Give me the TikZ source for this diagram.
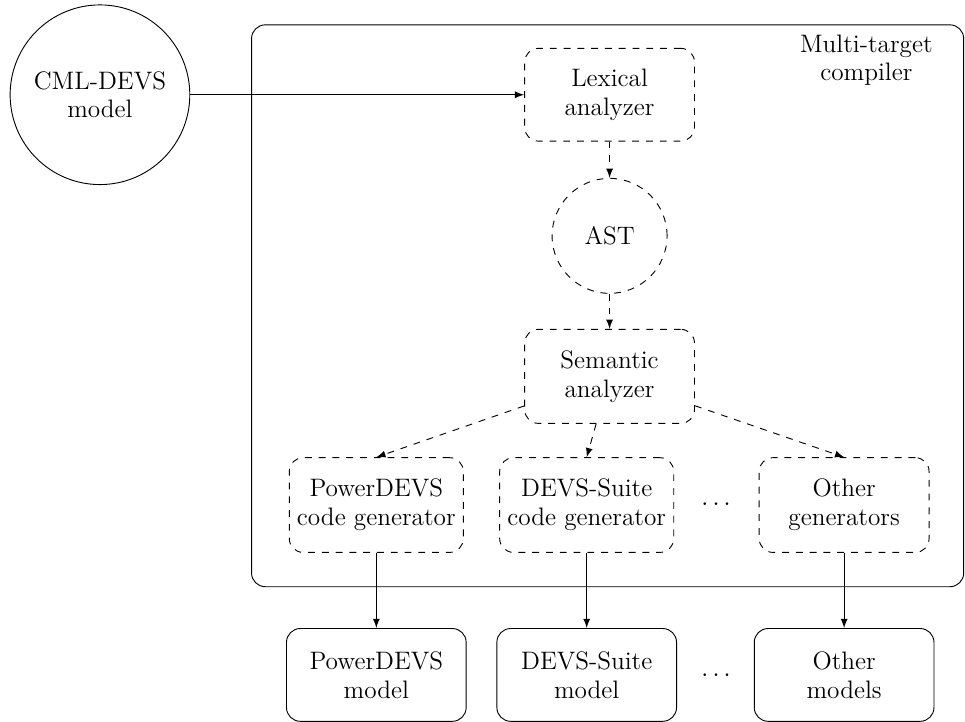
\documentclass[tikz,border=0pt]{standalone}
\usetikzlibrary{arrows}
\usetikzlibrary{positioning}

\begin{document}
\begin{tikzpicture}[font=\fontsize{11}{12.5}\selectfont,
    stage/.style={draw, dashed, rounded corners=6pt, align=center, minimum width=2.6cm, minimum height=1.42cm},
    result/.style={draw, rounded corners=6pt, align=center, minimum width=2.75cm, minimum height=1.42cm},
    flow/.style={-latex, dashed},
    emit/.style={-latex}]
  \useasboundingbox (0, 0) rectangle (14.77, -11.05);

  % compiler frame
  \draw[rounded corners=6pt] (3.85, -0.38) rectangle (14.75, -8.98);
  \node[align=center] (compiler) at (13.26, -0.92) {Multi-target\\compiler};

  \node[draw, circle, align=center, minimum size=2.75cm] (cml) at (1.53, -1.45) {CML-DEVS\\model};
  \node[stage] (lexer) at (9.33, -1.45) {Lexical\\analyzer};
  \node[draw, dashed, circle, minimum size=1.76cm] (ast) at (9.33, -3.61) {AST};
  \node[stage, minimum height=1.44cm] (semantic) at (9.33, -5.76) {Semantic\\analyzer};

  \draw[emit] (cml) -- (lexer);
  \draw[flow] (lexer) -- (ast);
  \draw[flow] (ast) -- (semantic);

  % one column per target
  \foreach \x/\id/\gen/\model in {5.76/pd/{PowerDEVS\\code generator}/{PowerDEVS\\model},
                                  8.98/ds/{DEVS-Suite\\code generator}/{DEVS-Suite\\model},
                                  12.92/other/{Other\\generators}/{Other\\models}}{
    \node[stage, minimum height=1.45cm] (gen-\id) at (\x, -7.73) {\gen};
    \node[result] (model-\id) at (\x, -10.33) {\model};
    \draw[flow] (semantic) -- (gen-\id.north);
    \draw[emit] (gen-\id) -- (model-\id);
  }

  \node (gendots) at (10.96, -7.72) {$\dots$};
  \node (modeldots) at (10.96, -10.33) {$\dots$};
\end{tikzpicture}
\end{document}
